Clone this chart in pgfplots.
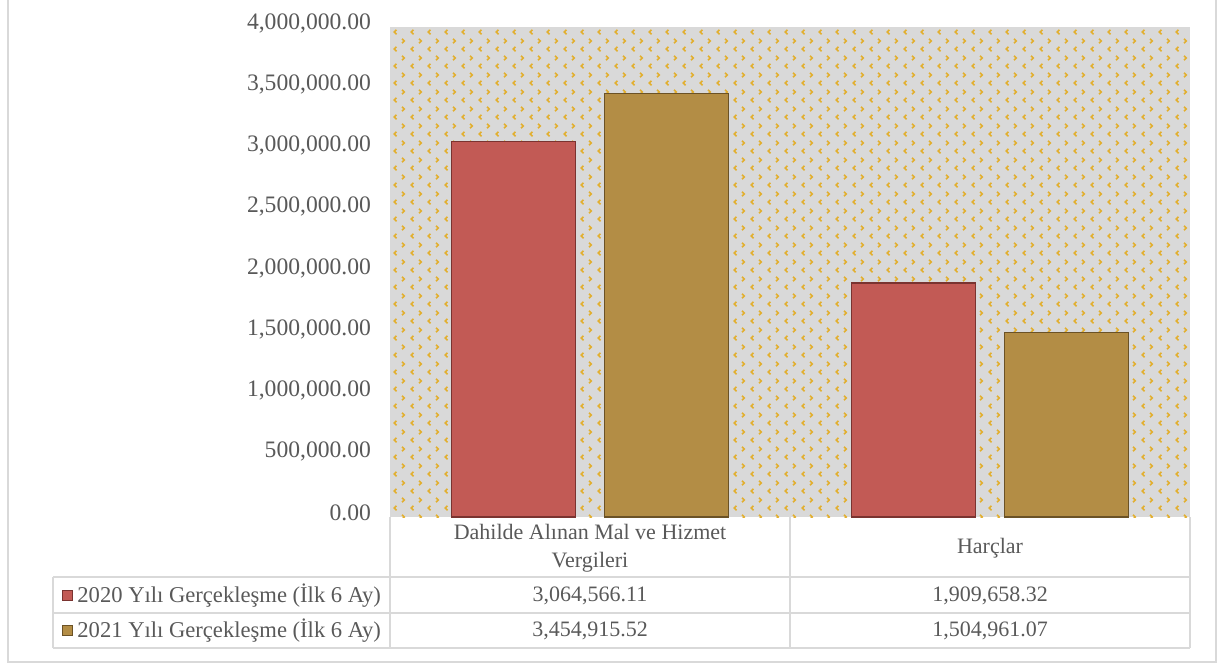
\documentclass[border=0pt]{standalone}
\usepackage{fontspec}
\setmainfont{Liberation Serif}
\usepackage{pgfplots}
\pgfplotsset{compat=1.18}
\usetikzlibrary{patterns.meta}
\definecolor{txt}{HTML}{595959}
\definecolor{grid}{HTML}{D9D9D9}
\definecolor{bggray}{HTML}{D9D9D9}
\definecolor{dotgold}{HTML}{E2AF2E}
\definecolor{redfill}{HTML}{C25A55}
\definecolor{reddraw}{HTML}{7A3330}
\definecolor{goldfill}{HTML}{B38D45}
\definecolor{golddraw}{HTML}{6B5226}
\tikzdeclarepattern{
  name=chev,
  type=uncolored,
  bounding box={(0pt,0pt) and (8.5pt,8.5pt)},
  tile size={(8.5pt,8.5pt)},
  code={
    \draw[line width=0.85pt] (2.9pt,0.9pt) -- (1.7pt,2.1pt) -- (2.9pt,3.3pt);
    \draw[line width=0.85pt] (5.85pt,5.15pt) -- (7.05pt,6.35pt) -- (5.85pt,7.55pt);
  }
}
\pgfplotstableread{
x v2020 v2021
0 3064566.11 3454915.52
1 1909658.32 1504961.07
}\datatable
\begin{document}
\begin{tikzpicture}
\begin{scope}[x=0.5pt,y=-0.5pt]
\useasboundingbox (0,0) rectangle (1219,664);
\draw[grid,line width=1pt] (8,-5) -- (8,662) -- (1216,662) -- (1216,-5);
\end{scope}
\begin{axis}[
  at={(195pt,-258.5pt)}, anchor=south west,
  scale only axis, width=400pt, height=245pt,
  ybar=14.5pt, bar width=62pt,
  xmin=-0.5, xmax=1.5, ymin=0, ymax=4000000,
  xtick=\empty,
  ytick={0,500000,...,4000000},
  scaled y ticks=false,
  yticklabel style={/pgf/number format/fixed, /pgf/number format/fixed zerofill, /pgf/number format/precision=2, /pgf/number format/1000 sep={,}, /pgf/number format/assume math mode=true},
  y tick label style={font=\fontsize{11.8}{13}\selectfont, text=txt, xshift=-6pt, yshift=2pt},
  axis line style={draw=none},
  major tick length=0pt,
  axis background/.style={fill=bggray, postaction={pattern=chev, pattern color=dotgold}},
  clip=false,
]
\addplot[fill=redfill, draw=reddraw, line width=0.6pt] table[x=x,y=v2020] {\datatable};
\addplot[fill=goldfill, draw=golddraw, line width=0.6pt] table[x=x,y=v2021] {\datatable};
\end{axis}
\begin{scope}[x=0.5pt,y=-0.5pt]
\draw[grid,line width=1pt] (390,517) -- (390,648);
\draw[grid,line width=1pt] (790,517) -- (790,648);
\draw[grid,line width=1pt] (1190,517) -- (1190,648);
\draw[grid,line width=1pt] (53,577) -- (1190,577);
\draw[grid,line width=1pt] (53,613) -- (1190,613);
\draw[grid,line width=1pt] (53,648) -- (1190,648);
\draw[grid,line width=1pt] (53,577) -- (53,648);
\begin{scope}[every node/.style={text=txt, font=\fontsize{11}{14}\selectfont, inner sep=0pt}]
\node[align=center] at (590,548) {Dahilde Alınan Mal ve Hizmet\\Vergileri};
\node at (990,548) {Harçlar};
\node at (590,596) {3,064,566.11};
\node at (990,596) {1,909,658.32};
\node at (590,631) {3,454,915.52};
\node at (990,631) {1,504,961.07};
\node[anchor=west, font=\fontsize{11.3}{14}\selectfont] at (77,596) {2020 Yılı Gerçekleşme (İlk 6 Ay)};
\node[anchor=west, font=\fontsize{11.3}{14}\selectfont] at (77,631) {2021 Yılı Gerçekleşme (İlk 6 Ay)};
\end{scope}
\fill[redfill, draw=reddraw, line width=0.4pt] (62,590) rectangle (72,600);
\fill[goldfill, draw=golddraw, line width=0.4pt] (62,625) rectangle (72,635);
\end{scope}
\end{tikzpicture}
\end{document}
